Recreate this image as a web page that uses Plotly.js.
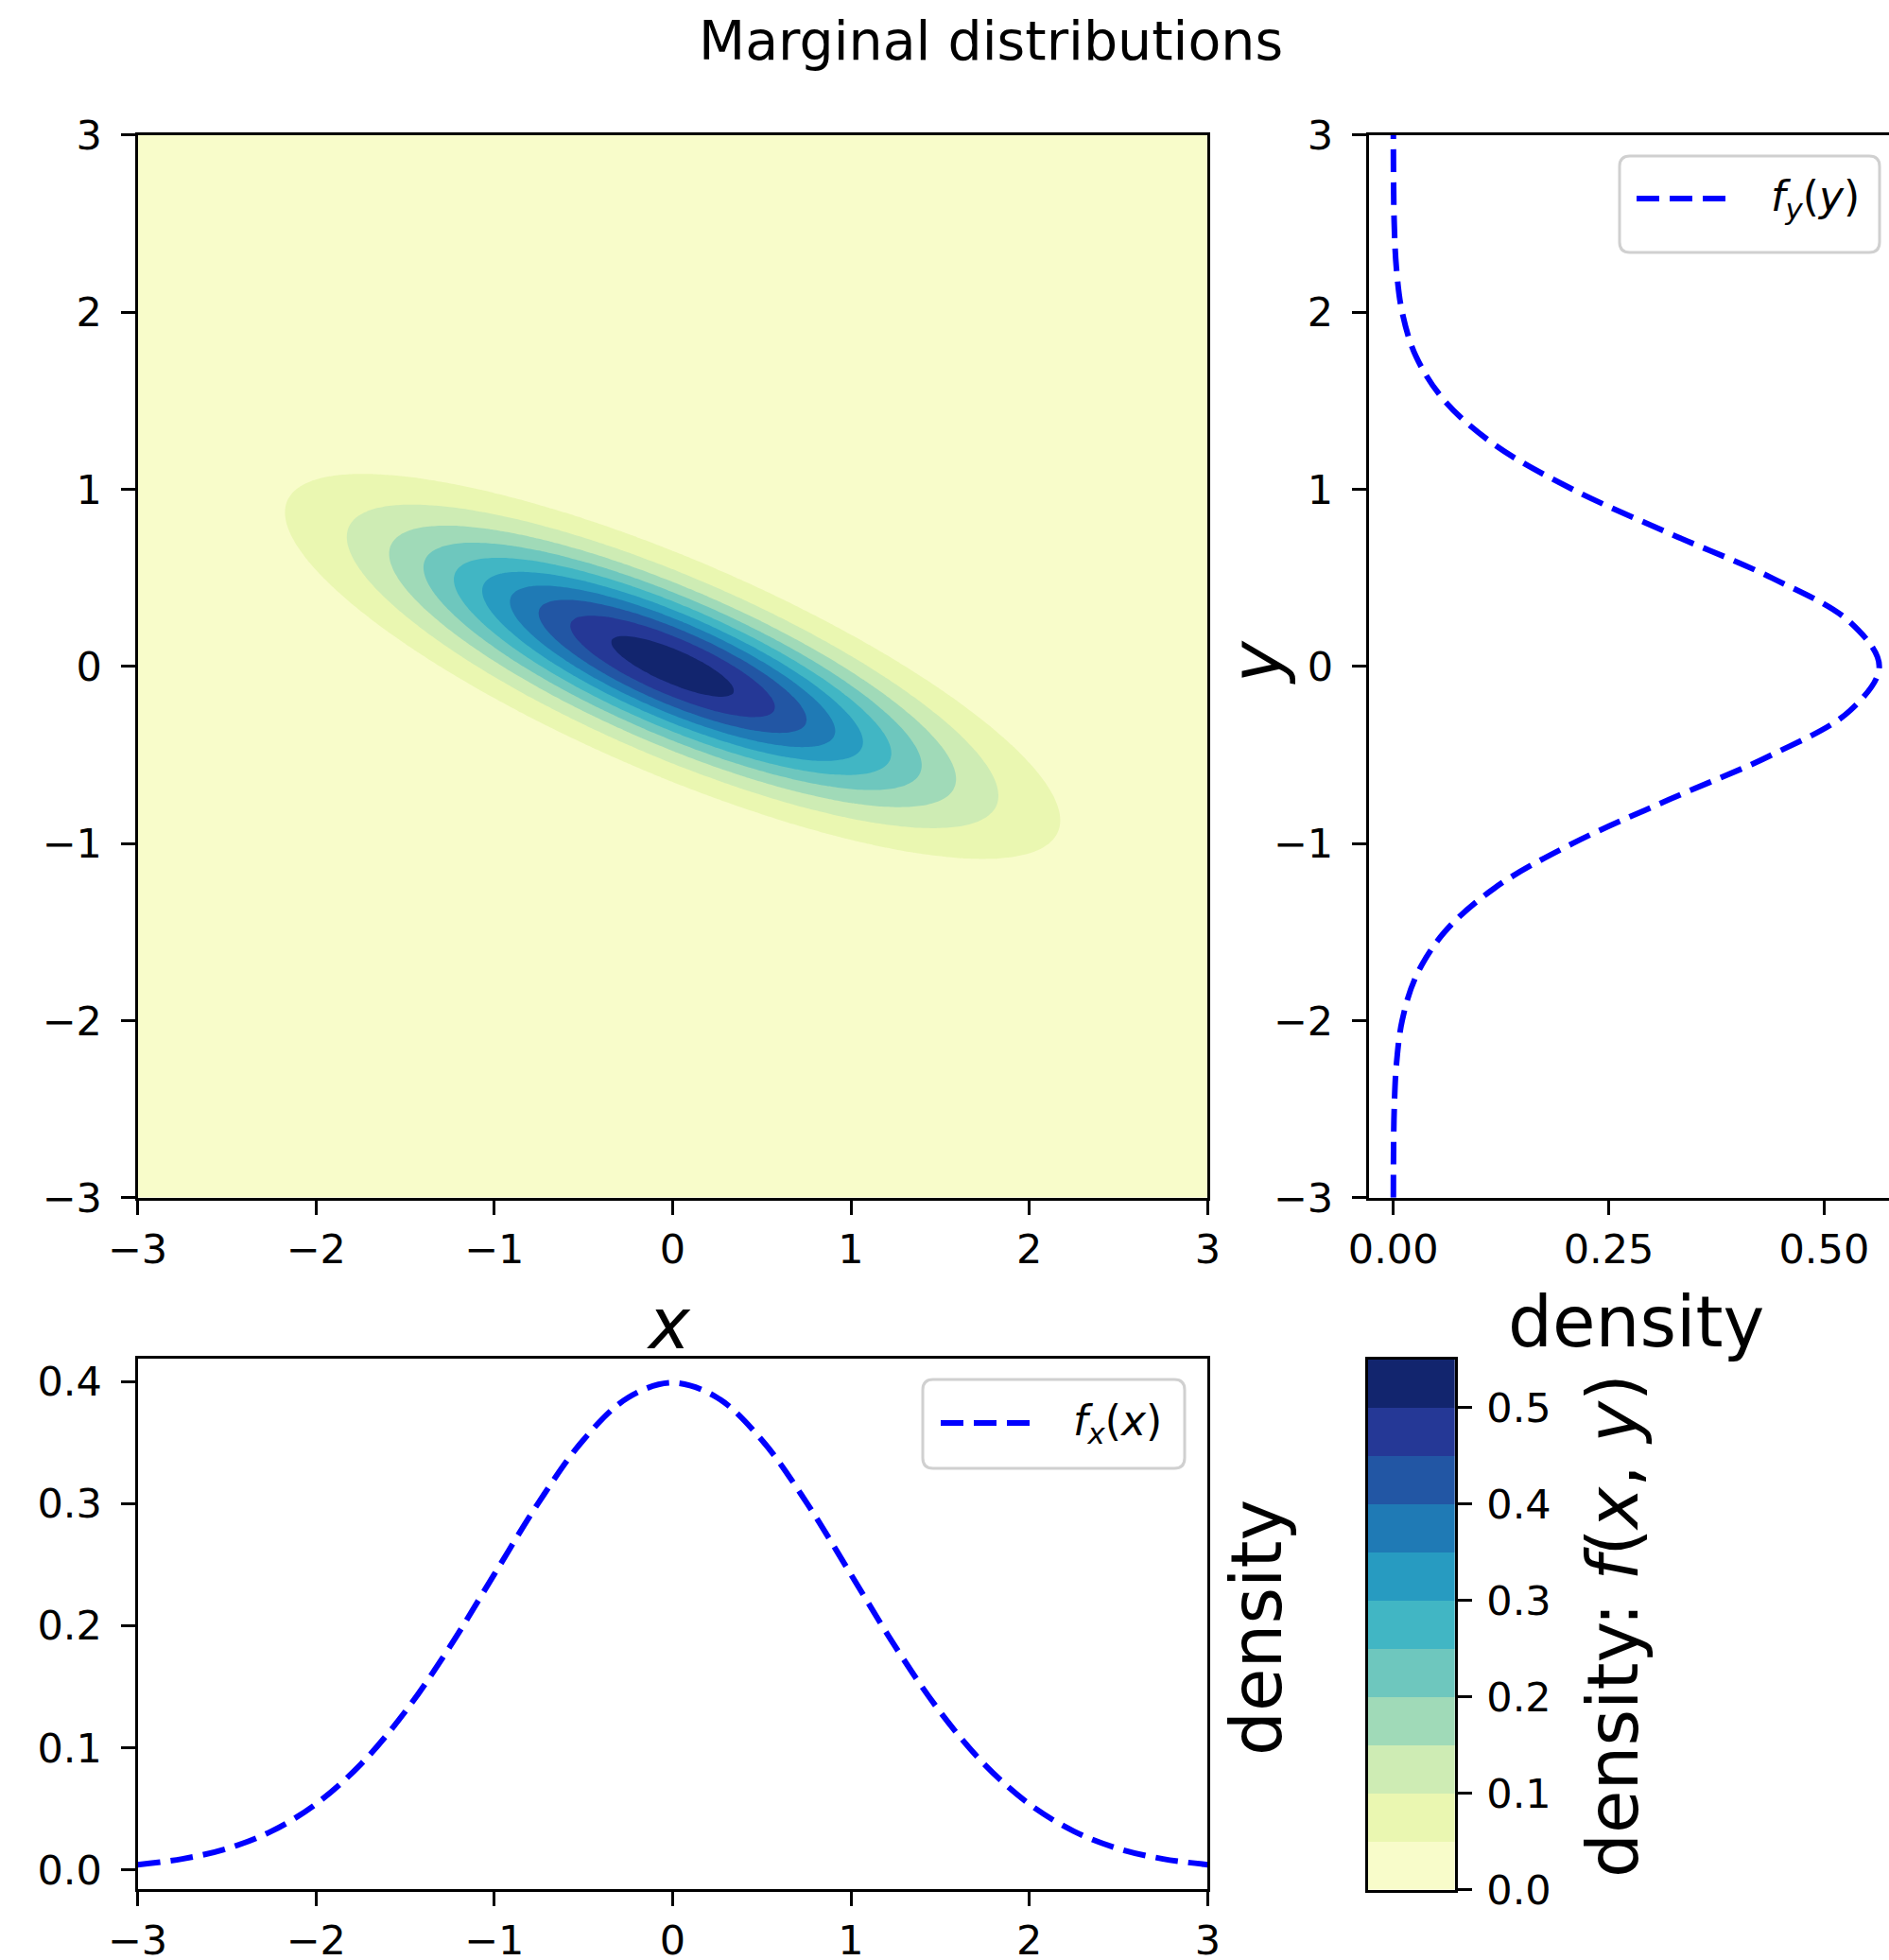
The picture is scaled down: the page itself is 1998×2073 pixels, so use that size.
<!DOCTYPE html>
<html>
<head>
<meta charset="utf-8">
<script src="https://cdn.plot.ly/plotly-3.0.1.min.js"></script>
<style>
html, body { margin: 0; padding: 0; background: #ffffff; }
#chart { width: 1998px; height: 2073px; }
</style>
</head>
<body>
<div id="chart"></div>
<script>
// ---------------- data ----------------
const titleText = "Marginal distributions";

// marginal f_x(x) (bottom panel)
const marginalX = [-3, -2.75, -2.5, -2.25, -2, -1.75, -1.5, -1.25, -1, -0.75, -0.5, -0.25, 0,
                   0.25, 0.5, 0.75, 1, 1.25, 1.5, 1.75, 2, 2.25, 2.5, 2.75, 3];
const fxDensity = [0.0044, 0.0091, 0.0175, 0.0317, 0.0540, 0.0863, 0.1295, 0.1826, 0.2420, 0.3011, 0.3521, 0.3867, 0.3989,
                   0.3867, 0.3521, 0.3011, 0.2420, 0.1826, 0.1295, 0.0863, 0.0540, 0.0317, 0.0175, 0.0091, 0.0044];

// marginal f_y(y) (right panel)
const marginalY = [-3, -2.75, -2.5, -2.25, -2, -1.75, -1.5, -1.25, -1, -0.75, -0.5, -0.25, 0,
                   0.25, 0.5, 0.75, 1, 1.25, 1.5, 1.75, 2, 2.25, 2.5, 2.75, 3];
const fyDensity = [0.0001, 0.0003, 0.0011, 0.0036, 0.0103, 0.0264, 0.0595, 0.118, 0.208, 0.321, 0.439, 0.530, 0.564,
                   0.530, 0.439, 0.321, 0.208, 0.118, 0.0595, 0.0264, 0.0103, 0.0036, 0.0011, 0.0003, 0.0001];

// joint density f(x, y): filled-contour ellipses
const jointCentre = [0, 0];        // centre of the ellipses
const jointSpread = [1.0, 0.5];    // spread along x and along y
const jointCorrelation = -0.8;     // tilt (negative slope)

// contour levels and the colour of each band (YlGnBu, 11 bands)
const bandLevels = [0, 0.05, 0.1, 0.15, 0.2, 0.25, 0.3, 0.35, 0.4, 0.45, 0.5, 0.55];
const bandColors = ["#f8fcca", "#eaf7b1", "#ceecb4", "#a0dab8", "#6ec7be", "#41b6c4",
                    "#279bc1", "#1f7ab5", "#2256a4", "#253896", "#12256e"];

// tick labels
const mainTicks = [-3, -2, -1, 0, 1, 2, 3];
const fyAxisTicks = [0, 0.25, 0.5];
const fxAxisTicks = [0, 0.1, 0.2, 0.3, 0.4];
const colorbarTicks = [0, 0.1, 0.2, 0.3, 0.4, 0.5];

// ---------------- build the density surface ----------------
const gridX = [], gridY = [];
for (let i = 0; i <= 240; i++) { gridX.push(-3 + i * 0.025); gridY.push(-3 + i * 0.025); }
const sx = jointSpread[0], sy = jointSpread[1], rho = jointCorrelation;
const norm = 1 / (2 * Math.PI * sx * sy * Math.sqrt(1 - rho * rho));
const jointZ = gridY.map(function (yv) {
  return gridX.map(function (xv) {
    const u = (xv - jointCentre[0]) / sx, v = (yv - jointCentre[1]) / sy;
    const q = (u * u - 2 * rho * u * v + v * v) / (1 - rho * rho);
    return norm * Math.exp(-q / 2);
  });
});

const cs = bandLevels[1] - bandLevels[0];
const bandMids = bandColors.map(function (c, i) { return (bandLevels[i] + bandLevels[i + 1]) / 2; });
const colorscale = bandColors.map(function (c, i) { return [i / (bandColors.length - 1), c]; });

// ---------------- layout helpers ----------------
const W = 1998, H = 2073;
const px = function (p) { return p / W; };
const py = function (p) { return 1 - p / H; };
const FONT = "DejaVu Sans, sans-serif";
const DASH = "24px,11px";

const axisBase = {
  showline: true, linecolor: "#000000", linewidth: 3,
  ticks: "outside", ticklen: 15, tickwidth: 3, tickcolor: "#000000",
  tickfont: { family: FONT, size: 43, color: "#000000" },
  showgrid: false, zeroline: false, fixedrange: true
};
function ax(extra) { return Object.assign({}, axisBase, extra); }

const traces = [
  {
    type: "contour", x: gridX, y: gridY, z: jointZ, xaxis: "x", yaxis: "y",
    autocontour: false,
    contours: { start: bandLevels[1], end: bandLevels[bandLevels.length - 2], size: cs, coloring: "fill", showlines: false },
    colorscale: colorscale, line: { width: 0 }, showscale: false, hoverinfo: "skip"
  },
  {
    type: "scatter", mode: "lines", x: fyDensity, y: marginalY, xaxis: "x2", yaxis: "y2",
    line: { color: "#0000ff", width: 6, dash: DASH, shape: "spline" }, name: "f_y(y)"
  },
  {
    type: "scatter", mode: "lines", x: marginalX, y: fxDensity, xaxis: "x3", yaxis: "y3",
    line: { color: "#0000ff", width: 6, dash: DASH, shape: "spline" }, name: "f_x(x)"
  },
  {
    type: "heatmap", x: [0], y: bandMids, z: bandMids.map(function (m) { return [m]; }),
    xaxis: "x4", yaxis: "y4", colorscale: colorscale, zmin: bandMids[0], zmax: bandMids[bandMids.length - 1],
    showscale: false, hoverinfo: "skip"
  }
];

function roundedRect(x0, y0, x1, y1, r) {
  const X = px, Y = py;
  return "M" + X(x0 + r) + "," + Y(y0) +
    " L" + X(x1 - r) + "," + Y(y0) +
    " Q" + X(x1) + "," + Y(y0) + " " + X(x1) + "," + Y(y0 + r) +
    " L" + X(x1) + "," + Y(y1 - r) +
    " Q" + X(x1) + "," + Y(y1) + " " + X(x1 - r) + "," + Y(y1) +
    " L" + X(x0 + r) + "," + Y(y1) +
    " Q" + X(x0) + "," + Y(y1) + " " + X(x0) + "," + Y(y1 - r) +
    " L" + X(x0) + "," + Y(y0 + r) +
    " Q" + X(x0) + "," + Y(y0) + " " + X(x0 + r) + "," + Y(y0) + " Z";
}

const shapes = [
  { type: "path", xref: "paper", yref: "paper", path: roundedRect(976, 1459, 1253, 1553, 11),
    fillcolor: "rgba(255,255,255,0.8)", line: { color: "#d0d0d0", width: 3 } },
  { type: "line", xref: "paper", yref: "paper", x0: px(995), x1: px(1092), y0: py(1505), y1: py(1505),
    line: { color: "#0000ff", width: 6, dash: DASH } },
  { type: "path", xref: "paper", yref: "paper", path: roundedRect(1713, 165, 1988, 267, 11),
    fillcolor: "rgba(255,255,255,0.8)", line: { color: "#d0d0d0", width: 3 } },
  { type: "line", xref: "paper", yref: "paper", x0: px(1731), x1: px(1829), y0: py(210), y1: py(210),
    line: { color: "#0000ff", width: 6, dash: DASH } }
];

function note(text, x, y, size, extra) {
  return Object.assign({
    text: text, xref: "paper", yref: "paper", x: px(x), y: py(y),
    xanchor: "center", yanchor: "middle", showarrow: false,
    font: { family: FONT, size: size, color: "#000000" }
  }, extra || {});
}

const annotations = [
  note(titleText, 1048, 43, 57),
  note("<i>x</i>", 707, 1400, 74),
  note("density", 1730, 1398, 74),
  note("<i>y</i>", 1329, 701, 74, { textangle: -90 }),
  note("density", 1329, 1722, 74, { textangle: -90 }),
  note("density: <i>f</i>(<i>x</i>, <i>y</i>)", 1706, 1720, 74, { textangle: -90 }),
  note("<i>f</i><sub><i>x</i></sub>(<i>x</i>)", 1133, 1505, 44, { xanchor: "left" }),
  note("<i>f</i><sub><i>y</i></sub>(<i>y</i>)", 1871, 210, 44, { xanchor: "left" })
];

const layout = {
  width: W, height: H, autosize: false,
  margin: { l: 0, r: 0, t: 0, b: 0, pad: 0 },
  paper_bgcolor: "#ffffff", plot_bgcolor: "#ffffff",
  showlegend: false,
  xaxis: ax({ domain: [px(145.5), px(1277.3)], range: [-3, 3], tickvals: mainTicks, mirror: true, anchor: "y" }),
  yaxis: ax({ domain: [py(1266.8), py(142.8)], range: [-3, 3], tickvals: mainTicks, mirror: true, anchor: "x",
              ticklabelstandoff: 11 }),
  xaxis2: ax({ domain: [px(1447.7), 1], range: [-0.0285, 0.5753], tickvals: fyAxisTicks, tickformat: ".2f", mirror: true, anchor: "y2" }),
  yaxis2: ax({ domain: [py(1266.8), py(142.8)], range: [-3, 3], tickvals: mainTicks, mirror: false, anchor: "x2",
               ticklabelstandoff: 11 }),
  xaxis3: ax({ domain: [px(145.5), px(1277.3)], range: [-3, 3], tickvals: mainTicks, mirror: true, anchor: "y3" }),
  yaxis3: ax({ domain: [py(1997.6), py(1437)], range: [-0.0153, 0.4186], tickvals: fxAxisTicks, tickformat: ".1f", mirror: true, anchor: "x3",
               ticklabelstandoff: 11 }),
  xaxis4: ax({ domain: [px(1447), px(1538.7)], range: [-0.5, 0.5], ticks: "", showticklabels: false, mirror: true, anchor: "y4" }),
  yaxis4: ax({ domain: [py(1998.7), py(1437.8)], range: [bandLevels[0], bandLevels[bandLevels.length - 1]], tickvals: colorbarTicks,
               tickformat: ".1f", side: "right", mirror: true, anchor: "x4", ticklabelstandoff: 7 }),
  shapes: shapes,
  annotations: annotations
};

Plotly.newPlot("chart", traces, layout, { staticPlot: true, displayModeBar: false });
</script>
</body>
</html>
